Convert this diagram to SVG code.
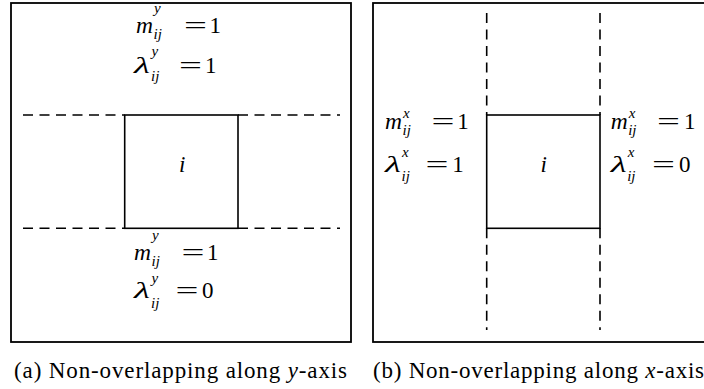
<svg xmlns="http://www.w3.org/2000/svg" width="704" height="389" viewBox="0 0 704 389">
<style>
.frame{fill:none;stroke:#000;stroke-width:1.8}
.sq{fill:#fff;stroke:#000;stroke-width:1.6}
.dash{fill:none;stroke:#000;stroke-width:1.6;stroke-dasharray:10 6.5}
text{font-family:'Liberation Serif',serif;fill:#000}
.m{font-style:italic;font-size:23px}
.s{font-style:italic;font-size:15px}
.r{font-size:23px}
.cap{font-size:23px}
</style>
<rect width="704" height="389" fill="#fff"/>
<g id="panel-a">
<rect class="frame" x="11" y="3" width="340" height="339"/>
</g>
<g id="panel-b">
<rect class="frame" x="373" y="3" width="340" height="339"/>
</g>
<g id="connectors">
<line class="dash" x1="23" y1="115" x2="124.7" y2="115"/>
<line class="dash" x1="238" y1="115" x2="340" y2="115"/>
<line class="dash" x1="23" y1="228.3" x2="124.7" y2="228.3"/>
<line class="dash" x1="238" y1="228.3" x2="340" y2="228.3"/>
<line class="dash" x1="486.7" y1="13" x2="486.7" y2="115"/>
<line class="dash" x1="600" y1="13" x2="600" y2="115"/>
<line class="dash" x1="486.7" y1="228.3" x2="486.7" y2="330"/>
<line class="dash" x1="600" y1="228.3" x2="600" y2="330"/>
</g>
<g id="node-i-a">
<rect class="sq" x="124.7" y="115" width="113.3" height="113.3"/>
<text class="m" x="179" y="172">i</text>
</g>
<g id="node-i-b">
<rect class="sq" x="486.7" y="115" width="113.3" height="113.3"/>
<text class="m" x="540.5" y="172">i</text>
</g>
<g id="label-a-top">
<text class="m" x="136" y="33" textLength="17" lengthAdjust="spacingAndGlyphs">m</text><text class="s" x="154" y="12.5">y</text><text class="s" x="153.5" y="38.5">ij</text>
<text class="r" x="184" y="33" textLength="23" lengthAdjust="spacingAndGlyphs">=</text><text class="r" x="209.5" y="33">1</text>
<text class="m" x="134" y="72.7" textLength="16" lengthAdjust="spacingAndGlyphs">λ</text><text class="s" x="151.5" y="56">y</text><text class="s" x="151" y="81">ij</text>
<text class="r" x="179" y="72.7" textLength="23" lengthAdjust="spacingAndGlyphs">=</text><text class="r" x="205" y="72.7">1</text>
</g>
<g id="label-a-bottom">
<text class="m" x="134" y="260" textLength="17" lengthAdjust="spacingAndGlyphs">m</text><text class="s" x="152" y="239.5">y</text><text class="s" x="151.5" y="265.5">ij</text>
<text class="r" x="181.5" y="260" textLength="23" lengthAdjust="spacingAndGlyphs">=</text><text class="r" x="207" y="260">1</text>
<text class="m" x="134" y="298.3" textLength="16" lengthAdjust="spacingAndGlyphs">λ</text><text class="s" x="151.5" y="283">y</text><text class="s" x="151" y="307.5">ij</text>
<text class="r" x="175.5" y="298.3" textLength="23" lengthAdjust="spacingAndGlyphs">=</text><text class="r" x="202" y="298.3">0</text>
</g>
<g id="label-b-left">
<text class="m" x="385" y="129.3" textLength="17" lengthAdjust="spacingAndGlyphs">m</text><text class="s" x="403" y="118">x</text><text class="s" x="402.5" y="135">ij</text>
<text class="r" x="431.5" y="129.3" textLength="23" lengthAdjust="spacingAndGlyphs">=</text><text class="r" x="457.3" y="129.3">1</text>
<text class="m" x="385" y="171.7" textLength="16" lengthAdjust="spacingAndGlyphs">λ</text><text class="s" x="402" y="157">x</text><text class="s" x="401.5" y="180.5">ij</text>
<text class="r" x="425.5" y="171.7" textLength="23" lengthAdjust="spacingAndGlyphs">=</text><text class="r" x="452.3" y="171.7">1</text>
</g>
<g id="label-b-right">
<text class="m" x="610.7" y="129.3" textLength="17" lengthAdjust="spacingAndGlyphs">m</text><text class="s" x="628.7" y="118">x</text><text class="s" x="628.2" y="135">ij</text>
<text class="r" x="657" y="129.3" textLength="23" lengthAdjust="spacingAndGlyphs">=</text><text class="r" x="684" y="129.3">1</text>
<text class="m" x="610.7" y="171.7" textLength="16" lengthAdjust="spacingAndGlyphs">λ</text><text class="s" x="627.7" y="157">x</text><text class="s" x="627.2" y="180.5">ij</text>
<text class="r" x="652" y="171.7" textLength="23" lengthAdjust="spacingAndGlyphs">=</text><text class="r" x="679" y="171.7">0</text>
</g>
<g id="captions">
<text class="cap" x="14" y="378" textLength="333" lengthAdjust="spacing">(a)  Non-overlapping along <tspan font-style="italic">y</tspan>-axis</text>
<text class="cap" x="373" y="378" textLength="331" lengthAdjust="spacing">(b)  Non-overlapping along <tspan font-style="italic">x</tspan>-axis</text>
</g>
</svg>
